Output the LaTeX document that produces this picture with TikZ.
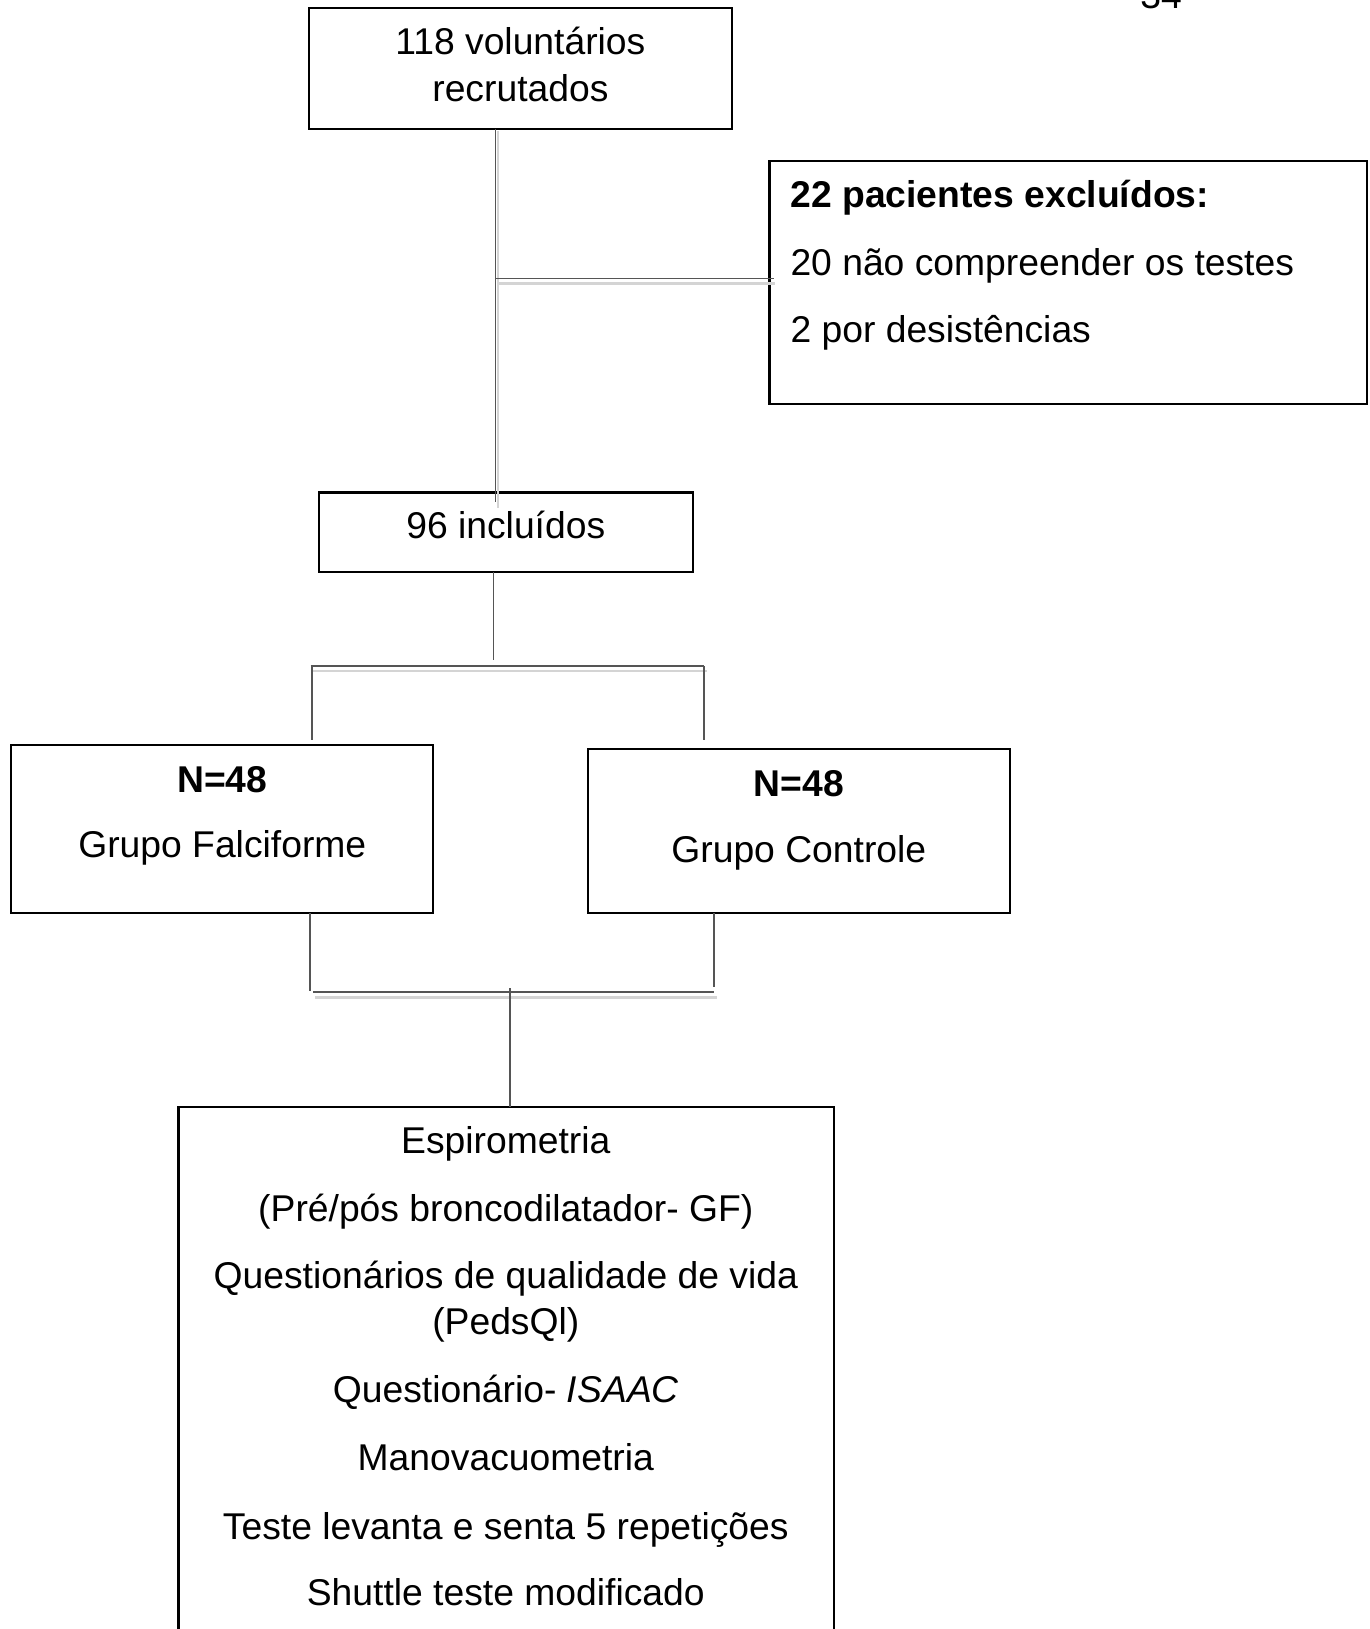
\documentclass[tikz,border=0pt]{standalone}
\usepackage{fontspec}
\setmainfont{Liberation Sans}
\usetikzlibrary{calc}
\definecolor{c555555}{RGB}{85,85,85}
\definecolor{cd4d4d4}{RGB}{212,212,212}
\def \globalscale {1.000000}

\begin{document}
\begin{tikzpicture}[y=-0.01cm, x=0.01cm, yscale=\globalscale,xscale=\globalscale, every node/.append style={scale=\globalscale}, inner sep=0pt, outer sep=0pt,
  flowbox/.style={draw=black,line width=0.6pt},
  link/.style={draw=c555555,line width=0.45pt},
  linkshade/.style={draw=cd4d4d4,line width=0.8pt},
  every node/.append style={font=\fontsize{10.6}{12.7}\selectfont, text height=0.267cm, text depth=0pt}]
  \useasboundingbox (0, 0) rectangle (1370, 1629);



  \node[text=black,anchor=base,text height=,text depth=] (text34) at (1161, 8){34};



  \node[flowbox,minimum width=4.228cm,minimum height=1.205cm] (rect118) at (520.9, 68.55){};



  \begin{scope}[fill=black,anchor=center]
    \node[text=black] (text118a) at (520.4, 41.5){118 voluntários};
    \node[text=black] (text118b) at (520.4, 88.3){recrutados};



  \end{scope}
  \node[flowbox,minimum width=5.972cm,minimum height=2.43cm] (rect22) at (1068.3, 282.5){};



  \begin{scope}[fill=black,anchor=west]
    \node[text=black,anchor=west] (text22a) at (790.5, 194.2){\bfseries 22 pacientes excluídos:};
    \node[text=black,anchor=west] (text22b) at (790.5, 261.8){20 não compreender os testes};
    \node[text=black,anchor=west] (text22c) at (790.5, 329.3){2 por desistências};



  \end{scope}
  \node[flowbox,minimum width=3.73cm,minimum height=0.798cm] (rect96) at (506, 532.4){};



  \node[text=black] (text96) at (505.8, 525.6){96 incluídos};



  % ligacoes do topo
  \coordinate (split22) at (495.5, 278.4);
  \path[linkshade] ($(split22 |- rect118.south)+(2.5,2)$) -- ($(split22 |- rect96.north)+(2.5,16)$);
  \path[linkshade] ($(split22)+(2,5)$) -- ($(split22 -| rect22.west)+(5,5)$);
  \path[link] (split22 |- rect118.south) -- ($(split22 |- rect96.north)+(0,10)$);
  \path[link] (split22) -- ($(split22 -| rect22.west)+(4,0)$);



  \node[flowbox,minimum width=4.217cm,minimum height=1.683cm] (rectGF) at (222.25, 828.85){};



  \begin{scope}[fill=black,anchor=center]
    \node[text=black] (textGFa) at (222.3, 779){\bfseries N=48};
    \node[text=black] (textGFb) at (222.3, 844.5){Grupo Falciforme};



  \end{scope}
  \node[flowbox,minimum width=4.217cm,minimum height=1.641cm] (rectGC) at (798.75, 830.95){};



  \begin{scope}[fill=black,anchor=center]
    \node[text=black] (textGCa) at (798.8, 783){\bfseries N=48};
    \node[text=black] (textGCb) at (798.8, 849.5){Grupo Controle};



  \end{scope}
  % divisao em grupos
  \coordinate (forkL) at (312, 666);
  \coordinate (forkR) at (704, 666);
  \path[link] (rect96.south -| 493.4, 0) -- (493.4, 660);
  \path[linkshade] ($(forkL)+(1,5)$) -- ($(forkR)+(3,5)$);
  \path[link] ($(forkL)+(-1.5,0)$) -- (forkR);
  \path[link] (forkL) -- ($(forkL |- rectGF.north)+(0,-4.5)$);
  \path[link] (forkR) -- ($(forkR |- rectGC.north)+(0,-9)$);



  \node[flowbox,minimum width=6.554cm,minimum height=5.927cm] (rectEx) at (506.4, 1403.65){};



  \begin{scope}[fill=black,anchor=center]
    \node[text=black] (textEx1) at (505.8, 1140.5){Espirometria};
    \node[text=black] (textEx2) at (505.8, 1208){(Pré/pós broncodilatador- GF)};
    \node[text=black] (textEx3) at (505.8, 1275.5){Questionários de qualidade de vida};
    \node[text=black] (textEx4) at (505.8, 1321.2){(PedsQl)};
    \node[text=black] (textEx5) at (505.8, 1388.7){Questionário- \itshape ISAAC};
    \node[text=black] (textEx6) at (505.8, 1457.3){Manovacuometria};
    \node[text=black] (textEx7) at (505.8, 1525.8){Teste levanta e senta 5 repetições};
    \node[text=black] (textEx8) at (505.8, 1592.3){Shuttle teste modificado};



  \end{scope}
  % juncao para avaliacoes
  \coordinate (joinL) at (310, 991.7);
  \coordinate (joinR) at (714, 991.7);
  \coordinate (joinC) at (510, 991.7);
  \path[link] (joinL |- rectGF.south) -- ($(joinL)+(0,-1)$);
  \path[link] (joinR |- rectGC.south) -- ($(joinR)+(0,-5)$);
  \path[linkshade] ($(joinL)+(5,5.5)$) -- ($(joinR)+(3,5.5)$);
  \path[link] ($(joinL)+(3,0)$) -- (joinR);
  \path[link] ($(joinC)+(0,-3.5)$) -- (joinC |- rectEx.north);

\end{tikzpicture}
\end{document}
